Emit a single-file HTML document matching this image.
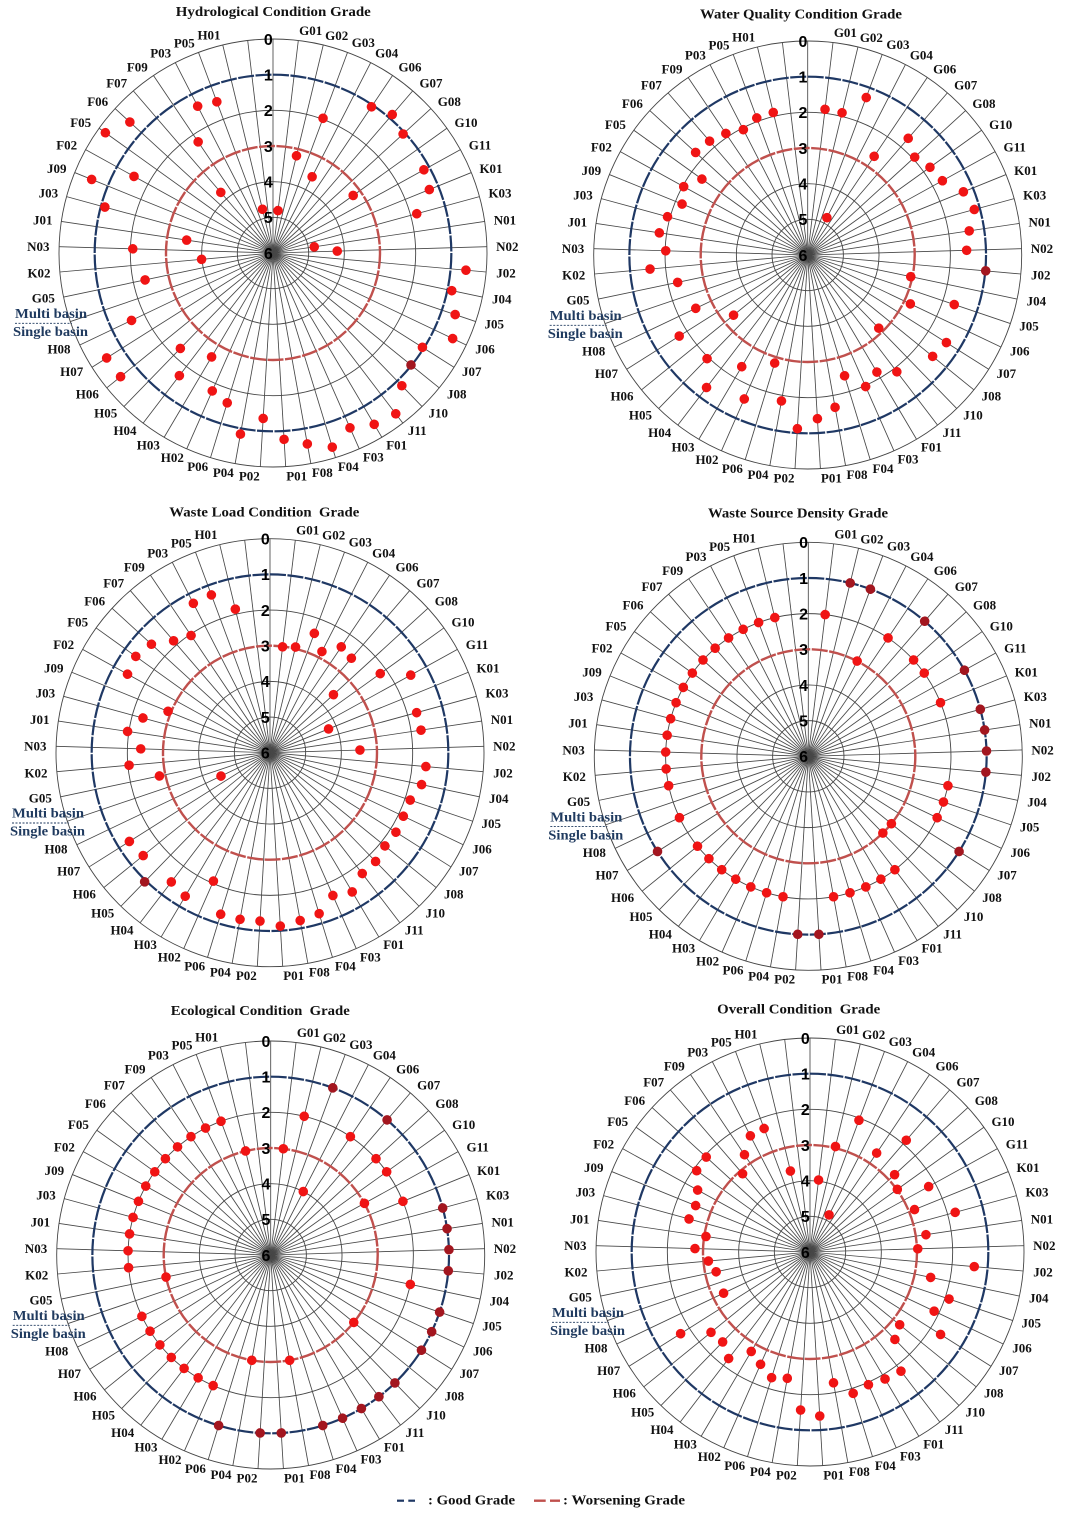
<!DOCTYPE html>
<html><head><meta charset="utf-8"><style>
html,body{margin:0;padding:0;background:#fff;}
svg{display:block;}
.lb{font-family:"Liberation Serif",serif;font-weight:bold;font-size:13px;text-anchor:middle;fill:#111;}
.sc{font-family:"Liberation Sans",sans-serif;font-weight:bold;font-size:16px;text-anchor:middle;fill:#000;}
.tt{font-family:"Liberation Serif",serif;font-weight:bold;font-size:14px;text-anchor:middle;fill:#111;}
.dv{font-family:"Liberation Serif",serif;font-weight:bold;font-size:13.5px;fill:#1f3a5f;}
.lg{font-family:"Liberation Serif",serif;font-weight:bold;font-size:13.5px;fill:#111;}
.dots circle{fill:#f01414;}
.dots circle.k{fill:#a3161f;}
</style></head><body>
<svg width="1076" height="1515" viewBox="0 0 1076 1515" xmlns="http://www.w3.org/2000/svg">
<defs>
<g id="grid">
<g fill="none" stroke="#454545" stroke-width="0.9">
<circle r="214"/><circle r="142.67"/><circle r="71.33"/><circle r="35.67"/>
</g>
<g stroke="#474747" stroke-width="0.85">
<line y2="-214"/>
<line y2="-214" transform="rotate(6.79)"/><line y2="-214" transform="rotate(13.58)"/><line y2="-214" transform="rotate(20.38)"/><line y2="-214" transform="rotate(27.17)"/><line y2="-214" transform="rotate(33.96)"/><line y2="-214" transform="rotate(40.75)"/><line y2="-214" transform="rotate(47.55)"/><line y2="-214" transform="rotate(54.34)"/><line y2="-214" transform="rotate(61.13)"/><line y2="-214" transform="rotate(67.92)"/>
<line y2="-214" transform="rotate(74.72)"/><line y2="-214" transform="rotate(81.51)"/><line y2="-214" transform="rotate(88.30)"/><line y2="-214" transform="rotate(95.09)"/><line y2="-214" transform="rotate(101.89)"/><line y2="-214" transform="rotate(108.68)"/><line y2="-214" transform="rotate(115.47)"/><line y2="-214" transform="rotate(122.26)"/><line y2="-214" transform="rotate(129.06)"/><line y2="-214" transform="rotate(135.85)"/>
<line y2="-214" transform="rotate(142.64)"/><line y2="-214" transform="rotate(149.43)"/><line y2="-214" transform="rotate(156.23)"/><line y2="-214" transform="rotate(163.02)"/><line y2="-214" transform="rotate(169.81)"/><line y2="-214" transform="rotate(176.60)"/><line y2="-214" transform="rotate(183.40)"/><line y2="-214" transform="rotate(190.19)"/><line y2="-214" transform="rotate(196.98)"/><line y2="-214" transform="rotate(203.77)"/>
<line y2="-214" transform="rotate(210.57)"/><line y2="-214" transform="rotate(217.36)"/><line y2="-214" transform="rotate(224.15)"/><line y2="-214" transform="rotate(230.94)"/><line y2="-214" transform="rotate(237.74)"/><line y2="-214" transform="rotate(244.53)"/><line y2="-214" transform="rotate(251.32)"/><line y2="-214" transform="rotate(258.11)"/><line y2="-214" transform="rotate(264.91)"/><line y2="-214" transform="rotate(271.70)"/>
<line y2="-214" transform="rotate(278.49)"/><line y2="-214" transform="rotate(285.28)"/><line y2="-214" transform="rotate(292.08)"/><line y2="-214" transform="rotate(298.87)"/><line y2="-214" transform="rotate(305.66)"/><line y2="-214" transform="rotate(312.45)"/><line y2="-214" transform="rotate(319.25)"/><line y2="-214" transform="rotate(326.04)"/><line y2="-214" transform="rotate(332.83)"/><line y2="-214" transform="rotate(339.62)"/>
<line y2="-214" transform="rotate(346.42)"/><line y2="-214" transform="rotate(353.21)"/>
</g>
<circle r="178.33" fill="none" stroke="#1f3864" stroke-width="2.2" stroke-dasharray="16 1.5"/>
<circle r="107" fill="none" stroke="#c0504d" stroke-width="2.4" stroke-dasharray="16 1.5"/>
<line x1="-258" x2="-201" y1="70.3" y2="70.3" stroke="#1f3a5f" stroke-width="0.9" stroke-dasharray="2 1.5"/>
</g>
</defs>

<!-- Titles -->
<text class="tt" x="273.3" y="16" textLength="195" lengthAdjust="spacingAndGlyphs">Hydrological Condition Grade</text>
<text class="tt" x="801" y="18.3" textLength="202" lengthAdjust="spacingAndGlyphs">Water Quality Condition Grade</text>
<text class="tt" x="264.3" y="516.7" textLength="190" lengthAdjust="spacingAndGlyphs">Waste Load Condition&#160; Grade</text>
<text class="tt" x="798" y="517.3" textLength="180" lengthAdjust="spacingAndGlyphs">Waste Source Density Grade</text>
<text class="tt" x="260.3" y="1015" textLength="179" lengthAdjust="spacingAndGlyphs">Ecological Condition&#160; Grade</text>
<text class="tt" x="798.7" y="1013.3" textLength="163" lengthAdjust="spacingAndGlyphs">Overall Condition&#160; Grade</text>

<!-- ============ CHART 1 ============ -->
<g transform="translate(273,253)">
<use href="#grid"/>
<g class="sc"><text x="-4.7" y="-208.2">0</text><text x="-4.7" y="-172.5">1</text><text x="-4.7" y="-136.9">2</text><text x="-4.7" y="-101.2">3</text><text x="-4.7" y="-65.5">4</text><text x="-4.7" y="-29.9">5</text><text x="-4.7" y="5.8">6</text></g>
<g class="lb">
<text x="37.7" y="-218">G01</text><text x="63.7" y="-213">G02</text><text x="90.3" y="-206">G03</text><text x="113.7" y="-195.4">G04</text><text x="137" y="-181.4">G06</text><text x="158" y="-165.4">G07</text><text x="176.3" y="-147">G08</text><text x="193" y="-126">G10</text><text x="207" y="-103.7">G11</text><text x="218" y="-80">K01</text><text x="227" y="-55.4">K03</text><text x="232" y="-28.7">N01</text><text x="234.3" y="-2">N02</text><text x="233" y="24.6">J02</text><text x="228.7" y="50.3">J04</text><text x="221.3" y="75.3">J05</text><text x="212" y="100.6">J06</text><text x="198.7" y="123">J07</text><text x="183.7" y="145.6">J08</text><text x="165.3" y="164.6">J10</text><text x="144.3" y="182">J11</text><text x="123.7" y="196.3">F01</text><text x="100.3" y="208.6">F03</text><text x="75.3" y="218">F04</text><text x="49.3" y="224">F08</text><text x="23.7" y="227.3">P01</text>
<text x="-23.7" y="227.3">P02</text><text x="-49.7" y="224">P04</text><text x="-75.3" y="218">P06</text><text x="-100.7" y="209">H02</text><text x="-124.7" y="196.3">H03</text><text x="-148" y="182">H04</text><text x="-167.3" y="164.6">H05</text><text x="-185.7" y="145.6">H06</text><text x="-201.3" y="123">H07</text><text x="-214" y="100.6">H08</text><text x="-229.7" y="49.6">G05</text><text x="-234" y="24.6">K02</text><text x="-234.7" y="-2">N03</text><text x="-230.3" y="-28.7">J01</text><text x="-224.7" y="-55.4">J03</text><text x="-216.3" y="-80">J09</text><text x="-206.3" y="-103.7">F02</text><text x="-192.3" y="-126">F05</text><text x="-175.3" y="-147">F06</text><text x="-156.3" y="-165.4">F07</text><text x="-135.7" y="-181.4">F09</text><text x="-112.3" y="-195.4">P03</text><text x="-88.7" y="-205.4">P05</text><text x="-64" y="-213.7">H01</text>
</g>
<text class="dv" x="-258" y="65" textLength="72" lengthAdjust="spacingAndGlyphs">Multi basin</text>
<text class="dv" x="-260" y="83" textLength="75" lengthAdjust="spacingAndGlyphs">Single basin</text>
<g class="dots">
<circle r="4.8" transform="rotate(6.79)" cy="-42.7"/><circle r="4.8" transform="rotate(13.58)" cy="-100"/><circle r="4.8" transform="rotate(20.38)" cy="-143.7"/><circle r="4.8" transform="rotate(27.17)" cy="-85.7"/><circle r="4.8" transform="rotate(33.96)" cy="-176.3"/><circle r="4.8" transform="rotate(40.75)" cy="-182.7"/><circle r="4.8" transform="rotate(47.55)" cy="-176.3"/><circle r="4.8" transform="rotate(54.34)" cy="-98.7"/><circle r="4.8" transform="rotate(61.13)" cy="-172.3"/><circle r="4.8" transform="rotate(67.92)" cy="-168.7"/>
<circle r="4.8" transform="rotate(74.72)" cy="-149"/><circle r="4.8" transform="rotate(81.51)" cy="-41.7"/><circle r="4.8" transform="rotate(88.30)" cy="-64.3"/><circle r="4.8" transform="rotate(95.09)" cy="-193.7"/><circle r="4.8" transform="rotate(101.89)" cy="-182.7"/><circle r="4.8" transform="rotate(108.68)" cy="-192.3"/><circle r="4.8" transform="rotate(115.47)" cy="-199"/><circle r="4.8" transform="rotate(122.26)" cy="-176.7"/><circle r="4.8" class="k" transform="rotate(129.06)" cy="-177.7"/><circle r="4.8" transform="rotate(135.85)" cy="-185"/>
<circle r="4.8" transform="rotate(142.64)" cy="-202.3"/><circle r="4.8" transform="rotate(149.43)" cy="-199"/><circle r="4.8" transform="rotate(156.23)" cy="-191"/><circle r="4.8" transform="rotate(163.02)" cy="-203"/><circle r="4.8" transform="rotate(169.81)" cy="-194"/><circle r="4.8" transform="rotate(176.60)" cy="-186.7"/><circle r="4.8" transform="rotate(183.40)" cy="-165.7"/><circle r="4.8" transform="rotate(190.19)" cy="-184"/><circle r="4.8" transform="rotate(196.98)" cy="-156.7"/><circle r="4.8" transform="rotate(203.77)" cy="-150.7"/>
<circle r="4.8" transform="rotate(210.57)" cy="-120.7"/><circle r="4.8" transform="rotate(217.36)" cy="-154.3"/><circle r="4.8" transform="rotate(224.15)" cy="-133"/><circle r="4.8" transform="rotate(230.94)" cy="-196.3"/><circle r="4.8" transform="rotate(237.74)" cy="-196.7"/><circle r="4.8" transform="rotate(244.53)" cy="-156.7"/>
<circle r="4.8" transform="rotate(258.11)" cy="-130.7"/><circle r="4.8" transform="rotate(264.91)" cy="-71.7"/><circle r="4.8" transform="rotate(271.70)" cy="-140.3"/><circle r="4.8" transform="rotate(278.49)" cy="-87.3"/><circle r="4.8" transform="rotate(285.28)" cy="-174.3"/><circle r="4.8" transform="rotate(292.08)" cy="-195.7"/><circle r="4.8" transform="rotate(298.87)" cy="-158.7"/><circle r="4.8" transform="rotate(305.66)" cy="-206.3"/><circle r="4.8" transform="rotate(312.45)" cy="-194"/><circle r="4.8" transform="rotate(319.25)" cy="-80"/>
<circle r="4.8" transform="rotate(326.04)" cy="-134"/><circle r="4.8" transform="rotate(332.83)" cy="-165"/><circle r="4.8" transform="rotate(339.62)" cy="-161.3"/><circle r="4.8" transform="rotate(346.42)" cy="-45"/>
</g>
</g>

<!-- ============ CHART 2 ============ -->
<g transform="translate(807.7,255)">
<use href="#grid"/>
<g class="sc"><text x="-4.7" y="-208.2">0</text><text x="-4.7" y="-172.5">1</text><text x="-4.7" y="-136.9">2</text><text x="-4.7" y="-101.2">3</text><text x="-4.7" y="-65.5">4</text><text x="-4.7" y="-29.9">5</text><text x="-4.7" y="5.8">6</text></g>
<g class="lb">
<text x="37.7" y="-218">G01</text><text x="63.7" y="-213">G02</text><text x="90.3" y="-206">G03</text><text x="113.7" y="-195.4">G04</text><text x="137" y="-181.4">G06</text><text x="158" y="-165.4">G07</text><text x="176.3" y="-147">G08</text><text x="193" y="-126">G10</text><text x="207" y="-103.7">G11</text><text x="218" y="-80">K01</text><text x="227" y="-55.4">K03</text><text x="232" y="-28.7">N01</text><text x="234.3" y="-2">N02</text><text x="233" y="24.6">J02</text><text x="228.7" y="50.3">J04</text><text x="221.3" y="75.3">J05</text><text x="212" y="100.6">J06</text><text x="198.7" y="123">J07</text><text x="183.7" y="145.6">J08</text><text x="165.3" y="164.6">J10</text><text x="144.3" y="182">J11</text><text x="123.7" y="196.3">F01</text><text x="100.3" y="208.6">F03</text><text x="75.3" y="218">F04</text><text x="49.3" y="224">F08</text><text x="23.7" y="227.3">P01</text>
<text x="-23.7" y="227.3">P02</text><text x="-49.7" y="224">P04</text><text x="-75.3" y="218">P06</text><text x="-100.7" y="209">H02</text><text x="-124.7" y="196.3">H03</text><text x="-148" y="182">H04</text><text x="-167.3" y="164.6">H05</text><text x="-185.7" y="145.6">H06</text><text x="-201.3" y="123">H07</text><text x="-214" y="100.6">H08</text><text x="-229.7" y="49.6">G05</text><text x="-234" y="24.6">K02</text><text x="-234.7" y="-2">N03</text><text x="-230.3" y="-28.7">J01</text><text x="-224.7" y="-55.4">J03</text><text x="-216.3" y="-80">J09</text><text x="-206.3" y="-103.7">F02</text><text x="-192.3" y="-126">F05</text><text x="-175.3" y="-147">F06</text><text x="-156.3" y="-165.4">F07</text><text x="-135.7" y="-181.4">F09</text><text x="-112.3" y="-195.4">P03</text><text x="-88.7" y="-205.4">P05</text><text x="-64" y="-213.7">H01</text>
</g>
<text class="dv" x="-258" y="65" textLength="72" lengthAdjust="spacingAndGlyphs">Multi basin</text>
<text class="dv" x="-260" y="83" textLength="75" lengthAdjust="spacingAndGlyphs">Single basin</text>
<g class="dots">
<circle r="4.8" transform="rotate(6.79)" cy="-146.7"/><circle r="4.8" transform="rotate(13.58)" cy="-146.3"/><circle r="4.8" transform="rotate(20.38)" cy="-168"/><circle r="4.8" transform="rotate(27.17)" cy="-42"/><circle r="4.8" transform="rotate(33.96)" cy="-119"/><circle r="4.8" transform="rotate(40.75)" cy="-154"/><circle r="4.8" transform="rotate(47.55)" cy="-145"/><circle r="4.8" transform="rotate(54.34)" cy="-150.5"/><circle r="4.8" transform="rotate(61.13)" cy="-153.8"/><circle r="4.8" transform="rotate(67.92)" cy="-168"/>
<circle r="4.8" transform="rotate(74.72)" cy="-172.7"/><circle r="4.8" transform="rotate(81.51)" cy="-163.3"/><circle r="4.8" transform="rotate(88.30)" cy="-159"/><circle r="4.8" class="k" transform="rotate(95.09)" cy="-178.7"/><circle r="4.8" transform="rotate(101.89)" cy="-105.3"/><circle r="4.8" transform="rotate(108.68)" cy="-154.7"/><circle r="4.8" transform="rotate(115.47)" cy="-113.7"/><circle r="4.8" transform="rotate(122.26)" cy="-164"/><circle r="4.8" transform="rotate(129.06)" cy="-160.9"/><circle r="4.8" transform="rotate(135.85)" cy="-102"/>
<circle r="4.8" transform="rotate(142.64)" cy="-146.9"/><circle r="4.8" transform="rotate(149.43)" cy="-136"/><circle r="4.8" transform="rotate(156.23)" cy="-143.7"/><circle r="4.8" transform="rotate(163.02)" cy="-126.3"/><circle r="4.8" transform="rotate(169.81)" cy="-154.7"/><circle r="4.8" transform="rotate(176.60)" cy="-164"/><circle r="4.8" transform="rotate(183.40)" cy="-174"/><circle r="4.8" transform="rotate(190.19)" cy="-148.3"/><circle r="4.8" transform="rotate(196.98)" cy="-113"/><circle r="4.8" transform="rotate(203.77)" cy="-157.3"/>
<circle r="4.8" transform="rotate(210.57)" cy="-129.7"/><circle r="4.8" transform="rotate(217.36)" cy="-166.7"/><circle r="4.8" transform="rotate(224.15)" cy="-144.5"/><circle r="4.8" transform="rotate(230.94)" cy="-95.5"/><circle r="4.8" transform="rotate(237.74)" cy="-151.9"/><circle r="4.8" transform="rotate(244.53)" cy="-124"/>
<circle r="4.8" transform="rotate(258.11)" cy="-132.9"/><circle r="4.8" transform="rotate(264.91)" cy="-158.3"/><circle r="4.8" transform="rotate(271.70)" cy="-142"/><circle r="4.8" transform="rotate(278.49)" cy="-150"/><circle r="4.8" transform="rotate(285.28)" cy="-145.3"/><circle r="4.8" transform="rotate(292.08)" cy="-135.6"/><circle r="4.8" transform="rotate(298.87)" cy="-141.6"/><circle r="4.8" transform="rotate(305.66)" cy="-130.2"/><circle r="4.8" transform="rotate(312.45)" cy="-151.9"/><circle r="4.8" transform="rotate(319.25)" cy="-150.3"/>
<circle r="4.8" transform="rotate(326.04)" cy="-146.5"/><circle r="4.8" transform="rotate(332.83)" cy="-140.9"/><circle r="4.8" transform="rotate(339.62)" cy="-146.2"/><circle r="4.8" transform="rotate(346.42)" cy="-146.6"/>
</g>
</g>

<!-- ============ CHART 3 ============ -->
<g transform="translate(270,752.7)">
<use href="#grid"/>
<g class="sc"><text x="-4.7" y="-208.2">0</text><text x="-4.7" y="-172.5">1</text><text x="-4.7" y="-136.9">2</text><text x="-4.7" y="-101.2">3</text><text x="-4.7" y="-65.5">4</text><text x="-4.7" y="-29.9">5</text><text x="-4.7" y="5.8">6</text></g>
<g class="lb">
<text x="37.7" y="-218">G01</text><text x="63.7" y="-213">G02</text><text x="90.3" y="-206">G03</text><text x="113.7" y="-195.4">G04</text><text x="137" y="-181.4">G06</text><text x="158" y="-165.4">G07</text><text x="176.3" y="-147">G08</text><text x="193" y="-126">G10</text><text x="207" y="-103.7">G11</text><text x="218" y="-80">K01</text><text x="227" y="-55.4">K03</text><text x="232" y="-28.7">N01</text><text x="234.3" y="-2">N02</text><text x="233" y="24.6">J02</text><text x="228.7" y="50.3">J04</text><text x="221.3" y="75.3">J05</text><text x="212" y="100.6">J06</text><text x="198.7" y="123">J07</text><text x="183.7" y="145.6">J08</text><text x="165.3" y="164.6">J10</text><text x="144.3" y="182">J11</text><text x="123.7" y="196.3">F01</text><text x="100.3" y="208.6">F03</text><text x="75.3" y="218">F04</text><text x="49.3" y="224">F08</text><text x="23.7" y="227.3">P01</text>
<text x="-23.7" y="227.3">P02</text><text x="-49.7" y="224">P04</text><text x="-75.3" y="218">P06</text><text x="-100.7" y="209">H02</text><text x="-124.7" y="196.3">H03</text><text x="-148" y="182">H04</text><text x="-167.3" y="164.6">H05</text><text x="-185.7" y="145.6">H06</text><text x="-201.3" y="123">H07</text><text x="-214" y="100.6">H08</text><text x="-229.7" y="49.6">G05</text><text x="-234" y="24.6">K02</text><text x="-234.7" y="-2">N03</text><text x="-230.3" y="-28.7">J01</text><text x="-224.7" y="-55.4">J03</text><text x="-216.3" y="-80">J09</text><text x="-206.3" y="-103.7">F02</text><text x="-192.3" y="-126">F05</text><text x="-175.3" y="-147">F06</text><text x="-156.3" y="-165.4">F07</text><text x="-135.7" y="-181.4">F09</text><text x="-112.3" y="-195.4">P03</text><text x="-88.7" y="-205.4">P05</text><text x="-64" y="-213.7">H01</text>
</g>
<text class="dv" x="-258" y="65" textLength="72" lengthAdjust="spacingAndGlyphs">Multi basin</text>
<text class="dv" x="-260" y="83" textLength="75" lengthAdjust="spacingAndGlyphs">Single basin</text>
<g class="dots">
<circle r="4.8" transform="rotate(6.79)" cy="-106.6"/><circle r="4.8" transform="rotate(13.58)" cy="-108.7"/><circle r="4.8" transform="rotate(20.38)" cy="-127.3"/><circle r="4.8" transform="rotate(27.17)" cy="-113.7"/><circle r="4.8" transform="rotate(33.96)" cy="-127.6"/><circle r="4.8" transform="rotate(40.75)" cy="-124.7"/><circle r="4.8" transform="rotate(47.55)" cy="-86"/><circle r="4.8" transform="rotate(54.34)" cy="-135.7"/><circle r="4.8" transform="rotate(61.13)" cy="-160.7"/><circle r="4.8" transform="rotate(67.92)" cy="-63.2"/>
<circle r="4.8" transform="rotate(74.72)" cy="-152"/><circle r="4.8" transform="rotate(81.51)" cy="-152.7"/><circle r="4.8" transform="rotate(88.30)" cy="-90"/><circle r="4.8" transform="rotate(95.09)" cy="-156.5"/><circle r="4.8" transform="rotate(101.89)" cy="-154.9"/><circle r="4.8" transform="rotate(108.68)" cy="-148"/><circle r="4.8" transform="rotate(115.47)" cy="-147.7"/><circle r="4.8" transform="rotate(122.26)" cy="-148.9"/><circle r="4.8" transform="rotate(129.06)" cy="-148"/><circle r="4.8" transform="rotate(135.85)" cy="-151.6"/>
<circle r="4.8" transform="rotate(142.64)" cy="-152"/><circle r="4.8" transform="rotate(149.43)" cy="-161.7"/><circle r="4.8" transform="rotate(156.23)" cy="-156"/><circle r="4.8" transform="rotate(163.02)" cy="-168.3"/><circle r="4.8" transform="rotate(169.81)" cy="-170.5"/><circle r="4.8" transform="rotate(176.60)" cy="-173.7"/><circle r="4.8" transform="rotate(183.40)" cy="-168.7"/><circle r="4.8" transform="rotate(190.19)" cy="-169.3"/><circle r="4.8" transform="rotate(196.98)" cy="-168.9"/><circle r="4.8" transform="rotate(203.77)" cy="-140.3"/>
<circle r="4.8" transform="rotate(210.57)" cy="-166.7"/><circle r="4.8" transform="rotate(217.36)" cy="-162.6"/><circle r="4.8" class="k" transform="rotate(224.15)" cy="-180"/><circle r="4.8" transform="rotate(230.94)" cy="-163.3"/><circle r="4.8" transform="rotate(237.74)" cy="-166.3"/><circle r="4.8" transform="rotate(244.53)" cy="-54.3"/>
<circle r="4.8" transform="rotate(258.11)" cy="-113"/><circle r="4.8" transform="rotate(264.91)" cy="-141.5"/><circle r="4.8" transform="rotate(271.70)" cy="-129.3"/><circle r="4.8" transform="rotate(278.49)" cy="-144"/><circle r="4.8" transform="rotate(285.28)" cy="-131.7"/><circle r="4.8" transform="rotate(292.08)" cy="-110"/><circle r="4.8" transform="rotate(298.87)" cy="-162.7"/><circle r="4.8" transform="rotate(305.66)" cy="-165.2"/><circle r="4.8" transform="rotate(312.45)" cy="-160.7"/><circle r="4.8" transform="rotate(319.25)" cy="-147.7"/>
<circle r="4.8" transform="rotate(326.04)" cy="-141.3"/><circle r="4.8" transform="rotate(332.83)" cy="-167.9"/><circle r="4.8" transform="rotate(339.62)" cy="-168.3"/><circle r="4.8" transform="rotate(346.42)" cy="-147.7"/>
</g>
</g>

<!-- ============ CHART 4 ============ -->
<g transform="translate(808.3,756.3)">
<use href="#grid"/>
<g class="sc"><text x="-4.7" y="-208.2">0</text><text x="-4.7" y="-172.5">1</text><text x="-4.7" y="-136.9">2</text><text x="-4.7" y="-101.2">3</text><text x="-4.7" y="-65.5">4</text><text x="-4.7" y="-29.9">5</text><text x="-4.7" y="5.8">6</text></g>
<g class="lb">
<text x="37.7" y="-218">G01</text><text x="63.7" y="-213">G02</text><text x="90.3" y="-206">G03</text><text x="113.7" y="-195.4">G04</text><text x="137" y="-181.4">G06</text><text x="158" y="-165.4">G07</text><text x="176.3" y="-147">G08</text><text x="193" y="-126">G10</text><text x="207" y="-103.7">G11</text><text x="218" y="-80">K01</text><text x="227" y="-55.4">K03</text><text x="232" y="-28.7">N01</text><text x="234.3" y="-2">N02</text><text x="233" y="24.6">J02</text><text x="228.7" y="50.3">J04</text><text x="221.3" y="75.3">J05</text><text x="212" y="100.6">J06</text><text x="198.7" y="123">J07</text><text x="183.7" y="145.6">J08</text><text x="165.3" y="164.6">J10</text><text x="144.3" y="182">J11</text><text x="123.7" y="196.3">F01</text><text x="100.3" y="208.6">F03</text><text x="75.3" y="218">F04</text><text x="49.3" y="224">F08</text><text x="23.7" y="227.3">P01</text>
<text x="-23.7" y="227.3">P02</text><text x="-49.7" y="224">P04</text><text x="-75.3" y="218">P06</text><text x="-100.7" y="209">H02</text><text x="-124.7" y="196.3">H03</text><text x="-148" y="182">H04</text><text x="-167.3" y="164.6">H05</text><text x="-185.7" y="145.6">H06</text><text x="-201.3" y="123">H07</text><text x="-214" y="100.6">H08</text><text x="-229.7" y="49.6">G05</text><text x="-234" y="24.6">K02</text><text x="-234.7" y="-2">N03</text><text x="-230.3" y="-28.7">J01</text><text x="-224.7" y="-55.4">J03</text><text x="-216.3" y="-80">J09</text><text x="-206.3" y="-103.7">F02</text><text x="-192.3" y="-126">F05</text><text x="-175.3" y="-147">F06</text><text x="-156.3" y="-165.4">F07</text><text x="-135.7" y="-181.4">F09</text><text x="-112.3" y="-195.4">P03</text><text x="-88.7" y="-205.4">P05</text><text x="-64" y="-213.7">H01</text>
</g>
<text class="dv" x="-258" y="65" textLength="72" lengthAdjust="spacingAndGlyphs">Multi basin</text>
<text class="dv" x="-260" y="83" textLength="75" lengthAdjust="spacingAndGlyphs">Single basin</text>
<g class="dots">
<circle r="4.8" transform="rotate(6.79)" cy="-142.7"/><circle r="4.8" class="k" transform="rotate(13.58)" cy="-178.3"/><circle r="4.8" class="k" transform="rotate(20.38)" cy="-178.3"/><circle r="4.8" transform="rotate(27.17)" cy="-107"/><circle r="4.8" transform="rotate(33.96)" cy="-142.7"/><circle r="4.8" class="k" transform="rotate(40.75)" cy="-178.3"/><circle r="4.8" transform="rotate(47.55)" cy="-142.7"/><circle r="4.8" transform="rotate(54.34)" cy="-142.7"/><circle r="4.8" class="k" transform="rotate(61.13)" cy="-178.3"/><circle r="4.8" transform="rotate(67.92)" cy="-142.7"/>
<circle r="4.8" class="k" transform="rotate(74.72)" cy="-178.3"/><circle r="4.8" class="k" transform="rotate(81.51)" cy="-178.3"/><circle r="4.8" class="k" transform="rotate(88.30)" cy="-178.3"/><circle r="4.8" class="k" transform="rotate(95.09)" cy="-178.3"/><circle r="4.8" transform="rotate(101.89)" cy="-142.7"/><circle r="4.8" transform="rotate(108.68)" cy="-142.7"/><circle r="4.8" transform="rotate(115.47)" cy="-142.7"/><circle r="4.8" class="k" transform="rotate(122.26)" cy="-178.3"/><circle r="4.8" transform="rotate(129.06)" cy="-107"/><circle r="4.8" transform="rotate(135.85)" cy="-107"/>
<circle r="4.8" transform="rotate(142.64)" cy="-142.7"/><circle r="4.8" transform="rotate(149.43)" cy="-142.7"/><circle r="4.8" transform="rotate(156.23)" cy="-142.7"/><circle r="4.8" transform="rotate(163.02)" cy="-142.7"/><circle r="4.8" transform="rotate(169.81)" cy="-142.7"/><circle r="4.8" class="k" transform="rotate(176.60)" cy="-178.3"/><circle r="4.8" class="k" transform="rotate(183.40)" cy="-178.3"/><circle r="4.8" transform="rotate(190.19)" cy="-142.7"/><circle r="4.8" transform="rotate(196.98)" cy="-142.7"/><circle r="4.8" transform="rotate(203.77)" cy="-142.7"/>
<circle r="4.8" transform="rotate(210.57)" cy="-142.7"/><circle r="4.8" transform="rotate(217.36)" cy="-142.7"/><circle r="4.8" transform="rotate(224.15)" cy="-142.7"/><circle r="4.8" transform="rotate(230.94)" cy="-142.7"/><circle r="4.8" class="k" transform="rotate(237.74)" cy="-178.3"/><circle r="4.8" transform="rotate(244.53)" cy="-142.7"/>
<circle r="4.8" transform="rotate(258.11)" cy="-142.7"/><circle r="4.8" transform="rotate(264.91)" cy="-142.7"/><circle r="4.8" transform="rotate(271.70)" cy="-142.7"/><circle r="4.8" transform="rotate(278.49)" cy="-142.7"/><circle r="4.8" transform="rotate(285.28)" cy="-142.7"/><circle r="4.8" transform="rotate(292.08)" cy="-142.7"/><circle r="4.8" transform="rotate(298.87)" cy="-142.7"/><circle r="4.8" transform="rotate(305.66)" cy="-142.7"/><circle r="4.8" transform="rotate(312.45)" cy="-142.7"/><circle r="4.8" transform="rotate(319.25)" cy="-142.7"/>
<circle r="4.8" transform="rotate(326.04)" cy="-142.7"/><circle r="4.8" transform="rotate(332.83)" cy="-142.7"/><circle r="4.8" transform="rotate(339.62)" cy="-142.7"/><circle r="4.8" transform="rotate(346.42)" cy="-142.7"/>
</g>
</g>

<!-- ============ CHART 5 ============ -->
<g transform="translate(270.7,1255)">
<use href="#grid"/>
<g class="sc"><text x="-4.7" y="-208.2">0</text><text x="-4.7" y="-172.5">1</text><text x="-4.7" y="-136.9">2</text><text x="-4.7" y="-101.2">3</text><text x="-4.7" y="-65.5">4</text><text x="-4.7" y="-29.9">5</text><text x="-4.7" y="5.8">6</text></g>
<g class="lb">
<text x="37.7" y="-218">G01</text><text x="63.7" y="-213">G02</text><text x="90.3" y="-206">G03</text><text x="113.7" y="-195.4">G04</text><text x="137" y="-181.4">G06</text><text x="158" y="-165.4">G07</text><text x="176.3" y="-147">G08</text><text x="193" y="-126">G10</text><text x="207" y="-103.7">G11</text><text x="218" y="-80">K01</text><text x="227" y="-55.4">K03</text><text x="232" y="-28.7">N01</text><text x="234.3" y="-2">N02</text><text x="233" y="24.6">J02</text><text x="228.7" y="50.3">J04</text><text x="221.3" y="75.3">J05</text><text x="212" y="100.6">J06</text><text x="198.7" y="123">J07</text><text x="183.7" y="145.6">J08</text><text x="165.3" y="164.6">J10</text><text x="144.3" y="182">J11</text><text x="123.7" y="196.3">F01</text><text x="100.3" y="208.6">F03</text><text x="75.3" y="218">F04</text><text x="49.3" y="224">F08</text><text x="23.7" y="227.3">P01</text>
<text x="-23.7" y="227.3">P02</text><text x="-49.7" y="224">P04</text><text x="-75.3" y="218">P06</text><text x="-100.7" y="209">H02</text><text x="-124.7" y="196.3">H03</text><text x="-148" y="182">H04</text><text x="-167.3" y="164.6">H05</text><text x="-185.7" y="145.6">H06</text><text x="-201.3" y="123">H07</text><text x="-214" y="100.6">H08</text><text x="-229.7" y="49.6">G05</text><text x="-234" y="24.6">K02</text><text x="-234.7" y="-2">N03</text><text x="-230.3" y="-28.7">J01</text><text x="-224.7" y="-55.4">J03</text><text x="-216.3" y="-80">J09</text><text x="-206.3" y="-103.7">F02</text><text x="-192.3" y="-126">F05</text><text x="-175.3" y="-147">F06</text><text x="-156.3" y="-165.4">F07</text><text x="-135.7" y="-181.4">F09</text><text x="-112.3" y="-195.4">P03</text><text x="-88.7" y="-205.4">P05</text><text x="-64" y="-213.7">H01</text>
</g>
<text class="dv" x="-258" y="65" textLength="72" lengthAdjust="spacingAndGlyphs">Multi basin</text>
<text class="dv" x="-260" y="83" textLength="75" lengthAdjust="spacingAndGlyphs">Single basin</text>
<g class="dots">
<circle r="4.8" transform="rotate(6.79)" cy="-107"/><circle r="4.8" transform="rotate(13.58)" cy="-142.7"/><circle r="4.8" class="k" transform="rotate(20.38)" cy="-178.3"/><circle r="4.8" transform="rotate(27.17)" cy="-71.3"/><circle r="4.8" transform="rotate(33.96)" cy="-142.7"/><circle r="4.8" class="k" transform="rotate(40.75)" cy="-178.3"/><circle r="4.8" transform="rotate(47.55)" cy="-142.7"/><circle r="4.8" transform="rotate(54.34)" cy="-142.7"/><circle r="4.8" transform="rotate(61.13)" cy="-107"/><circle r="4.8" transform="rotate(67.92)" cy="-142.7"/>
<circle r="4.8" class="k" transform="rotate(74.72)" cy="-178.3"/><circle r="4.8" class="k" transform="rotate(81.51)" cy="-178.3"/><circle r="4.8" class="k" transform="rotate(88.30)" cy="-178.3"/><circle r="4.8" class="k" transform="rotate(95.09)" cy="-178.3"/><circle r="4.8" transform="rotate(101.89)" cy="-142.7"/><circle r="4.8" class="k" transform="rotate(108.68)" cy="-178.3"/><circle r="4.8" class="k" transform="rotate(115.47)" cy="-178.3"/><circle r="4.8" class="k" transform="rotate(122.26)" cy="-178.3"/><circle r="4.8" transform="rotate(129.06)" cy="-107"/><circle r="4.8" class="k" transform="rotate(135.85)" cy="-178.3"/>
<circle r="4.8" class="k" transform="rotate(142.64)" cy="-178.3"/><circle r="4.8" class="k" transform="rotate(149.43)" cy="-178.3"/><circle r="4.8" class="k" transform="rotate(156.23)" cy="-178.3"/><circle r="4.8" class="k" transform="rotate(163.02)" cy="-178.3"/><circle r="4.8" transform="rotate(169.81)" cy="-107"/><circle r="4.8" class="k" transform="rotate(176.60)" cy="-178.3"/><circle r="4.8" class="k" transform="rotate(183.40)" cy="-178.3"/><circle r="4.8" transform="rotate(190.19)" cy="-107"/><circle r="4.8" class="k" transform="rotate(196.98)" cy="-178.3"/><circle r="4.8" transform="rotate(203.77)" cy="-142.7"/>
<circle r="4.8" transform="rotate(210.57)" cy="-142.7"/><circle r="4.8" transform="rotate(217.36)" cy="-142.7"/><circle r="4.8" transform="rotate(224.15)" cy="-142.7"/><circle r="4.8" transform="rotate(230.94)" cy="-142.7"/><circle r="4.8" transform="rotate(237.74)" cy="-142.7"/><circle r="4.8" transform="rotate(244.53)" cy="-142.7"/>
<circle r="4.8" transform="rotate(258.11)" cy="-107"/><circle r="4.8" transform="rotate(264.91)" cy="-142.7"/><circle r="4.8" transform="rotate(271.70)" cy="-142.7"/><circle r="4.8" transform="rotate(278.49)" cy="-142.7"/><circle r="4.8" transform="rotate(285.28)" cy="-142.7"/><circle r="4.8" transform="rotate(292.08)" cy="-142.7"/><circle r="4.8" transform="rotate(298.87)" cy="-142.7"/><circle r="4.8" transform="rotate(305.66)" cy="-142.7"/><circle r="4.8" transform="rotate(312.45)" cy="-142.7"/><circle r="4.8" transform="rotate(319.25)" cy="-142.7"/>
<circle r="4.8" transform="rotate(326.04)" cy="-142.7"/><circle r="4.8" transform="rotate(332.83)" cy="-142.7"/><circle r="4.8" transform="rotate(339.62)" cy="-142.7"/><circle r="4.8" transform="rotate(346.42)" cy="-107"/>
</g>
</g>

<!-- ============ CHART 6 ============ -->
<g transform="translate(810,1252)">
<use href="#grid"/>
<g class="sc"><text x="-4.7" y="-208.2">0</text><text x="-4.7" y="-172.5">1</text><text x="-4.7" y="-136.9">2</text><text x="-4.7" y="-101.2">3</text><text x="-4.7" y="-65.5">4</text><text x="-4.7" y="-29.9">5</text><text x="-4.7" y="5.8">6</text></g>
<g class="lb">
<text x="37.7" y="-218">G01</text><text x="63.7" y="-213">G02</text><text x="90.3" y="-206">G03</text><text x="113.7" y="-195.4">G04</text><text x="137" y="-181.4">G06</text><text x="158" y="-165.4">G07</text><text x="176.3" y="-147">G08</text><text x="193" y="-126">G10</text><text x="207" y="-103.7">G11</text><text x="218" y="-80">K01</text><text x="227" y="-55.4">K03</text><text x="232" y="-28.7">N01</text><text x="234.3" y="-2">N02</text><text x="233" y="24.6">J02</text><text x="228.7" y="50.3">J04</text><text x="221.3" y="75.3">J05</text><text x="212" y="100.6">J06</text><text x="198.7" y="123">J07</text><text x="183.7" y="145.6">J08</text><text x="165.3" y="164.6">J10</text><text x="144.3" y="182">J11</text><text x="123.7" y="196.3">F01</text><text x="100.3" y="208.6">F03</text><text x="75.3" y="218">F04</text><text x="49.3" y="224">F08</text><text x="23.7" y="227.3">P01</text>
<text x="-23.7" y="227.3">P02</text><text x="-49.7" y="224">P04</text><text x="-75.3" y="218">P06</text><text x="-100.7" y="209">H02</text><text x="-124.7" y="196.3">H03</text><text x="-148" y="182">H04</text><text x="-167.3" y="164.6">H05</text><text x="-185.7" y="145.6">H06</text><text x="-201.3" y="123">H07</text><text x="-214" y="100.6">H08</text><text x="-229.7" y="49.6">G05</text><text x="-234" y="24.6">K02</text><text x="-234.7" y="-2">N03</text><text x="-230.3" y="-28.7">J01</text><text x="-224.7" y="-55.4">J03</text><text x="-216.3" y="-80">J09</text><text x="-206.3" y="-103.7">F02</text><text x="-192.3" y="-126">F05</text><text x="-175.3" y="-147">F06</text><text x="-156.3" y="-165.4">F07</text><text x="-135.7" y="-181.4">F09</text><text x="-112.3" y="-195.4">P03</text><text x="-88.7" y="-205.4">P05</text><text x="-64" y="-213.7">H01</text>
</g>
<text class="dv" x="-258" y="65" textLength="72" lengthAdjust="spacingAndGlyphs">Multi basin</text>
<text class="dv" x="-260" y="83" textLength="75" lengthAdjust="spacingAndGlyphs">Single basin</text>
<g class="dots">
<circle r="4.8" transform="rotate(6.79)" cy="-72.5"/><circle r="4.8" transform="rotate(13.58)" cy="-108.5"/><circle r="4.8" transform="rotate(20.38)" cy="-140.6"/><circle r="4.8" transform="rotate(27.17)" cy="-41.7"/><circle r="4.8" transform="rotate(33.96)" cy="-119.3"/><circle r="4.8" transform="rotate(40.75)" cy="-147.5"/><circle r="4.8" transform="rotate(47.55)" cy="-114.6"/><circle r="4.8" transform="rotate(54.34)" cy="-107.5"/><circle r="4.8" transform="rotate(61.13)" cy="-135.5"/><circle r="4.8" transform="rotate(67.92)" cy="-112.8"/>
<circle r="4.8" transform="rotate(74.72)" cy="-150.5"/><circle r="4.8" transform="rotate(81.51)" cy="-117.2"/><circle r="4.8" transform="rotate(88.30)" cy="-107.8"/><circle r="4.8" transform="rotate(95.09)" cy="-164.9"/><circle r="4.8" transform="rotate(101.89)" cy="-123.3"/><circle r="4.8" transform="rotate(108.68)" cy="-146.8"/><circle r="4.8" transform="rotate(115.47)" cy="-137.5"/><circle r="4.8" transform="rotate(122.26)" cy="-154.4"/><circle r="4.8" transform="rotate(129.06)" cy="-115.5"/><circle r="4.8" transform="rotate(135.85)" cy="-121.9"/>
<circle r="4.8" transform="rotate(142.64)" cy="-149.9"/><circle r="4.8" transform="rotate(149.43)" cy="-147.5"/><circle r="4.8" transform="rotate(156.23)" cy="-145"/><circle r="4.8" transform="rotate(163.02)" cy="-147.8"/><circle r="4.8" transform="rotate(169.81)" cy="-132.9"/><circle r="4.8" transform="rotate(176.60)" cy="-164.3"/><circle r="4.8" transform="rotate(183.40)" cy="-158.3"/><circle r="4.8" transform="rotate(190.19)" cy="-128.3"/><circle r="4.8" transform="rotate(196.98)" cy="-131.4"/><circle r="4.8" transform="rotate(203.77)" cy="-122.7"/>
<circle r="4.8" transform="rotate(210.57)" cy="-115.5"/><circle r="4.8" transform="rotate(217.36)" cy="-134"/><circle r="4.8" transform="rotate(224.15)" cy="-125.4"/><circle r="4.8" transform="rotate(230.94)" cy="-127.5"/><circle r="4.8" transform="rotate(237.74)" cy="-153"/><circle r="4.8" transform="rotate(244.53)" cy="-95.7"/>
<circle r="4.8" transform="rotate(258.11)" cy="-95.9"/><circle r="4.8" transform="rotate(264.91)" cy="-102"/><circle r="4.8" transform="rotate(271.70)" cy="-115.1"/><circle r="4.8" transform="rotate(278.49)" cy="-105.2"/><circle r="4.8" transform="rotate(285.28)" cy="-125.4"/><circle r="4.8" transform="rotate(292.08)" cy="-123.4"/><circle r="4.8" transform="rotate(298.87)" cy="-128.3"/><circle r="4.8" transform="rotate(305.66)" cy="-139.5"/><circle r="4.8" transform="rotate(312.45)" cy="-140.6"/><circle r="4.8" transform="rotate(319.25)" cy="-103.3"/>
<circle r="4.8" transform="rotate(326.04)" cy="-117.3"/><circle r="4.8" transform="rotate(332.83)" cy="-130.6"/><circle r="4.8" transform="rotate(339.62)" cy="-131.8"/><circle r="4.8" transform="rotate(346.42)" cy="-83.3"/>
</g>
</g>

<!-- Legend -->
<line x1="397" x2="404" y1="1500.7" y2="1500.7" stroke="#1f3864" stroke-width="2.2"/>
<line x1="408.3" x2="415" y1="1500.7" y2="1500.7" stroke="#1f3864" stroke-width="2.2"/>
<text class="lg" x="428" y="1504.5" textLength="87" lengthAdjust="spacingAndGlyphs">: Good Grade</text>
<line x1="534" x2="545.7" y1="1500.7" y2="1500.7" stroke="#c0504d" stroke-width="2.4"/>
<line x1="550" x2="560" y1="1500.7" y2="1500.7" stroke="#c0504d" stroke-width="2.4"/>
<text class="lg" x="563" y="1504.5" textLength="122" lengthAdjust="spacingAndGlyphs">: Worsening Grade</text>
</svg>
</body></html>
